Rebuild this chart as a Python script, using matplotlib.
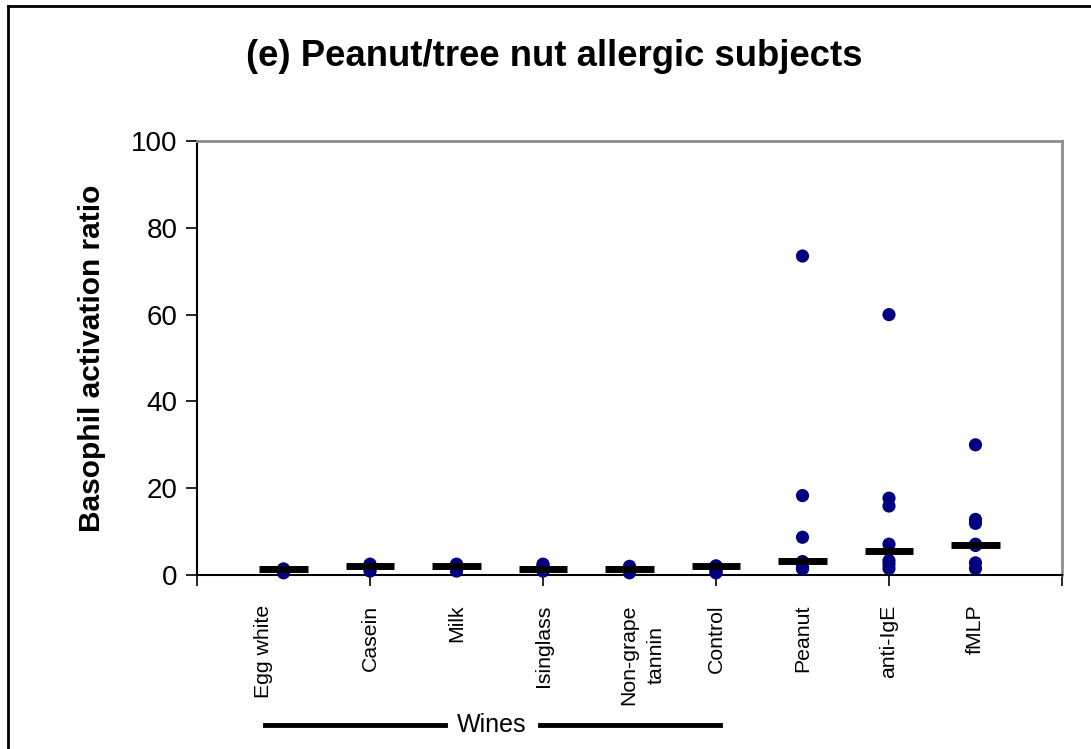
import numpy as np
import matplotlib
matplotlib.use("Agg")
import matplotlib.pyplot as plt
from matplotlib.lines import Line2D

plt.rcParams['font.family'] = ['Liberation Sans', 'DejaVu Sans']

categories = ["Egg white", "Casein", "Milk", "Isinglass", "Non-grape\ntannin",
              "Control", "Peanut", "anti-IgE", "fMLP"]

# individual subject ratios per stimulus
egg_white = [0.5, 0.7, 0.9, 1.1, 1.3, 1.4]
casein = [0.9, 1.3, 1.7, 2.1, 2.3, 2.5]
milk = [0.9, 1.3, 1.7, 2.1, 2.3, 2.5]
isinglass = [0.9, 1.1, 1.3, 1.6, 2.2, 2.5]
tannin = [0.5, 0.8, 1.1, 1.3, 1.6, 2.0]
control = [0.5, 0.8, 1.2, 1.6, 2.0, 2.1]
peanut = [1.4, 1.6, 2.5, 3.1, 8.7, 18.3, 73.5]
anti_ige = [1.5, 2.5, 3.3, 7.1, 15.9, 17.7, 60.0]
fmlp = [1.5, 2.8, 6.8, 7.1, 11.9, 12.8, 30.0]

medians = [1.3, 2.1, 2.1, 1.3, 1.3, 2.1, 3.2, 5.6, 6.8]

series = [egg_white, casein, milk, isinglass, tannin, control, peanut, anti_ige, fmlp]

# small horizontal nudges of the category labels (as placed in the original)
label_shift = [-0.23, 0, 0, 0, 0.15, 0, 0, 0, 0]

fig = plt.figure(figsize=(10.91, 7.49), dpi=100)
ax = fig.add_axes([0.1806, 0.2323, 0.7928, 0.5794])

for i, vals in enumerate(series):
    pos = i + 1
    ax.scatter([pos] * len(vals), vals, s=90, color="#000080", zorder=3,
               edgecolors="none", clip_on=False)
    ax.hlines(medians[i], pos - 0.28, pos + 0.28, colors="black",
              linewidth=5, zorder=4)

ax.set_xlim(0, 10)
ax.set_ylim(0, 100)
ax.set_yticks([0, 20, 40, 60, 80, 100])
ax.set_xticks([0, 2, 4, 6, 8, 10])
ax.set_xticklabels([])
ax.tick_params(axis='y', labelsize=20, length=8, width=1.2, direction='out', pad=6)
ax.tick_params(axis='x', length=8, width=1.2, direction='out')

for i, lab in enumerate(categories):
    ax.text(i + 1 + label_shift[i], -6.8, lab, rotation=90, ha='center', va='top',
            fontsize=15.3, transform=ax.transData, clip_on=False,
            multialignment='center', linespacing=1.6)

ax.spines['left'].set_color('black')
ax.spines['bottom'].set_color('black')
ax.spines['left'].set_linewidth(1.5)
ax.spines['bottom'].set_linewidth(1.5)
ax.spines['top'].set_color('#8c8c8c')
ax.spines['right'].set_color('#8c8c8c')
ax.spines['top'].set_linewidth(2)
ax.spines['right'].set_linewidth(2)

ax.set_ylabel("Basophil activation ratio", fontsize=21.5, fontweight='bold', labelpad=18)

fig.text(0.508, 0.924, "(e) Peanut/tree nut allergic subjects", ha='center', va='center',
         fontsize=26.3, fontweight='bold')

# Wines bracket
wy = 1 - 725 / 749
fig.add_artist(Line2D([265 / 1091, 445 / 1091], [wy, wy], color='black', linewidth=3.5))
fig.add_artist(Line2D([540 / 1091, 720 / 1091], [wy, wy], color='black', linewidth=3.5))
fig.text(492 / 1091, wy, "Wines", ha='center', va='center', fontsize=18)

# outer chart border (left and top)
fig.add_artist(Line2D([8 / 1091, 8 / 1091], [0, 1 - 6 / 749], color='black', linewidth=2))
fig.add_artist(Line2D([8 / 1091, 1], [1 - 6 / 749] * 2, color='black', linewidth=2))

fig.savefig("out.png", dpi=100, facecolor='white')
